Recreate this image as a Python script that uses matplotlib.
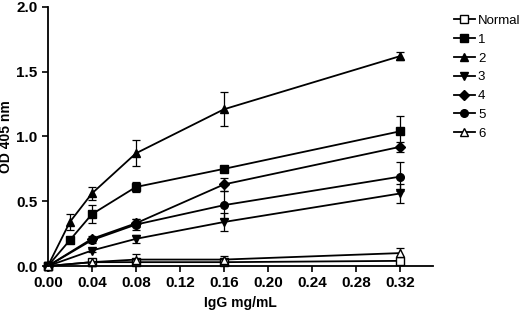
import matplotlib
matplotlib.use("Agg")
import matplotlib.pyplot as plt

plt.rcParams['font.family'] = ['Liberation Sans', 'DejaVu Sans']

# concentrations (mg/mL)
conc_a = [0.0, 0.02, 0.04, 0.08, 0.16, 0.32]
conc_b = [0.0, 0.04, 0.08, 0.16, 0.32]

labels = ["Normal", "1", "2", "3", "4", "5", "6"]

normal = [0.0, 0.03, 0.03, 0.03, 0.04]
normal_err = [0.0, 0.01, 0.02, 0.02, 0.03]
s1 = [0.0, 0.20, 0.40, 0.61, 0.75, 1.04]
s1_err = [0.0, 0.02, 0.07, 0.04, 0.02, 0.12]
s2 = [0.0, 0.34, 0.56, 0.87, 1.21, 1.62]
s2_err = [0.0, 0.06, 0.05, 0.10, 0.13, 0.03]
s3 = [0.0, 0.12, 0.21, 0.34, 0.56]
s3_err = [0.0, 0.01, 0.03, 0.07, 0.07]
s4 = [0.0, 0.21, 0.33, 0.63, 0.92]
s4_err = [0.0, 0.02, 0.03, 0.05, 0.04]
s5 = [0.0, 0.20, 0.32, 0.47, 0.69]
s5_err = [0.0, 0.02, 0.04, 0.11, 0.11]
s6 = [0.0, 0.03, 0.05, 0.05, 0.10]
s6_err = [0.0, 0.01, 0.04, 0.03, 0.04]

series = [
    (conc_b, normal, normal_err, 's', 'white'),
    (conc_a, s1, s1_err, 's', 'black'),
    (conc_a, s2, s2_err, '^', 'black'),
    (conc_b, s3, s3_err, 'v', 'black'),
    (conc_b, s4, s4_err, 'D', 'black'),
    (conc_b, s5, s5_err, 'o', 'black'),
    (conc_b, s6, s6_err, '^', 'white'),
]

fig = plt.figure(figsize=(5.2, 3.13), dpi=100)
ax = fig.add_axes([0.092, 0.150, 0.741, 0.828])

for (x, y, e, m, fc), lab in zip(series, labels):
    ms = 5 if m == 'D' else 5.5
    ln, caps, bars = ax.errorbar(x, y, yerr=e, color='black', marker=m, markerfacecolor=fc,
                                 markeredgecolor='black', markersize=ms, linewidth=1.3,
                                 elinewidth=0.9, capsize=3, capthick=0.9, label=lab)
    ln.set_clip_on(False)

ax.set_xlim(0, 0.35)
ax.set_ylim(0, 2.0)
ax.set_xticks([0.0, 0.04, 0.08, 0.12, 0.16, 0.20, 0.24, 0.28, 0.32])
ax.set_xticklabels(["0.00", "0.04", "0.08", "0.12", "0.16", "0.20", "0.24", "0.28", "0.32"])
ax.set_yticks([0.0, 0.5, 1.0, 1.5, 2.0])
ax.set_yticklabels(["0.0", "0.5", "1.0", "1.5", "2.0"])
ax.spines['top'].set_visible(False)
ax.spines['right'].set_visible(False)
ax.spines['left'].set_linewidth(1.3)
ax.spines['bottom'].set_linewidth(1.3)
ax.tick_params(direction='out', length=4, width=1.2, labelsize=11)
for t in ax.get_xticklabels() + ax.get_yticklabels():
    t.set_fontweight('bold')
ax.set_xlabel("IgG mg/mL", fontsize=10, fontweight='bold', labelpad=4)
ax.set_ylabel("OD 405 nm", fontsize=10, fontweight='bold', labelpad=2)

handles, labs = ax.get_legend_handles_labels()
handles = [h[0] for h in handles]
leg = fig.legend(handles, labs, loc='upper left', bbox_to_anchor=(0.862, 0.97),
                 frameon=False, fontsize=9.5, handlelength=1.6, handletextpad=0.25,
                 labelspacing=0.5, borderaxespad=0)

fig.savefig("out.png", dpi=100)
